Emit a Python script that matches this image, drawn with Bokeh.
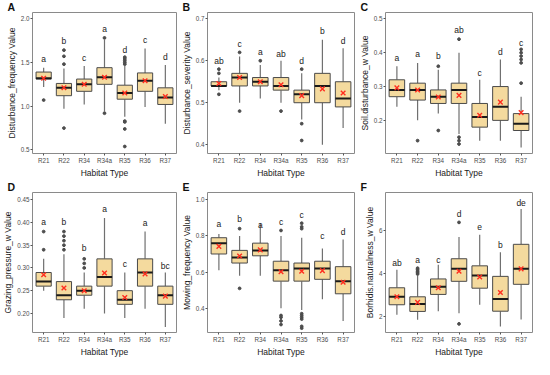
from bokeh.plotting import figure
from bokeh.models import Range1d, FixedTicker, Label, ColumnDataSource, NumeralTickFormatter
from bokeh.layouts import gridplot
from bokeh.embed import file_html
from bokeh.resources import INLINE
from bokeh.core.properties import value

habitats = ["R21", "R22", "R34", "R34a", "R35", "R36", "R37"]

# ---- Panel A: Disturbance_frequency
A_lower = [1.22, 0.97, 1.02, 0.94, 0.88, 0.99, 0.80]
A_q1 = [1.31, 1.12, 1.17, 1.25, 1.08, 1.17, 1.02]
A_median = [1.32, 1.21, 1.25, 1.33, 1.15, 1.29, 1.10]
A_q3 = [1.39, 1.26, 1.31, 1.44, 1.24, 1.38, 1.21]
A_upper = [1.44, 1.43, 1.46, 1.76, 1.46, 1.66, 1.47]
A_mean = [1.32, 1.21, 1.25, 1.33, 1.15, 1.29, 1.11]
A_outliers = [[1.07], [1.64, 1.57, 1.48, 0.75], [], [1.78, 0.92],
              [1.56, 1.54, 1.52, 1.50, 1.48, 0.83, 0.82, 0.74, 0.54], [], []]
A_letters = ["a", "b", "c", "a", "d", "c", "d"]
A_letter_y = [1.54, 1.74, 1.55, 1.88, 1.64, 1.76, 1.56]

# ---- Panel B: Disturbance_severity
B_lower = [0.53, 0.50, 0.51, 0.50, 0.46, 0.40, 0.44]
B_q1 = [0.54, 0.54, 0.54, 0.53, 0.50, 0.50, 0.49]
B_median = [0.54, 0.56, 0.55, 0.54, 0.52, 0.54, 0.51]
B_q3 = [0.55, 0.57, 0.56, 0.56, 0.53, 0.57, 0.55]
B_upper = [0.56, 0.61, 0.59, 0.60, 0.57, 0.65, 0.63]
B_mean = [0.546, 0.560, 0.550, 0.543, 0.517, 0.533, 0.523]
B_outliers = [[0.58, 0.57, 0.52], [0.62, 0.48], [0.60], [0.48], [0.58, 0.45, 0.41], [], []]
B_letters = ["ab", "c", "a", "ab", "d", "b", "d"]
B_letter_y = [0.599, 0.640, 0.620, 0.616, 0.599, 0.670, 0.648]

# ---- Panel C: Soil.disturbance_w
C_lower = [0.24, 0.20, 0.22, 0.16, 0.14, 0.14, 0.12]
C_q1 = [0.27, 0.26, 0.25, 0.25, 0.18, 0.20, 0.17]
C_median = [0.29, 0.29, 0.27, 0.29, 0.21, 0.24, 0.19]
C_q3 = [0.32, 0.31, 0.29, 0.31, 0.25, 0.30, 0.22]
C_upper = [0.36, 0.37, 0.35, 0.40, 0.32, 0.38, 0.27]
C_mean = [0.296, 0.290, 0.269, 0.274, 0.215, 0.254, 0.223]
C_outliers = [[], [0.14], [0.36, 0.17], [0.44, 0.15, 0.14, 0.13], [], [],
              [0.41, 0.40, 0.39, 0.38, 0.37, 0.31]]
C_letters = ["a", "a", "b", "ab", "c", "d", "c"]
C_letter_y = [0.384, 0.395, 0.391, 0.467, 0.341, 0.402, 0.430]

# ---- Panel D: Grazing_pressure_w
D_lower = [0.25, 0.19, 0.21, 0.20, 0.19, 0.21, 0.17]
D_q1 = [0.26, 0.23, 0.24, 0.26, 0.22, 0.26, 0.22]
D_median = [0.27, 0.24, 0.25, 0.28, 0.23, 0.29, 0.24]
D_q3 = [0.29, 0.27, 0.26, 0.32, 0.25, 0.32, 0.26]
D_upper = [0.32, 0.33, 0.29, 0.41, 0.29, 0.38, 0.29]
D_mean = [0.285, 0.256, 0.250, 0.289, 0.235, 0.287, 0.238]
D_outliers = [[0.38, 0.34], [0.38, 0.37, 0.36, 0.35, 0.34], [0.32, 0.31, 0.30], [], [], [], []]
D_letters = ["a", "b", "b", "a", "c", "a", "bc"]
D_letter_y = [0.402, 0.402, 0.344, 0.430, 0.309, 0.399, 0.305]

# ---- Panel E: Mowing_frequency
E_lower = [0.61, 0.58, 0.58, 0.40, 0.39, 0.45, 0.33]
E_q1 = [0.70, 0.65, 0.69, 0.55, 0.55, 0.56, 0.48]
E_median = [0.76, 0.68, 0.72, 0.61, 0.62, 0.62, 0.55]
E_q3 = [0.79, 0.72, 0.76, 0.66, 0.65, 0.66, 0.63]
E_upper = [0.81, 0.80, 0.87, 0.80, 0.79, 0.73, 0.78]
E_mean = [0.742, 0.689, 0.723, 0.602, 0.605, 0.608, 0.544]
E_outliers = [[], [0.84, 0.51], [], [0.83, 0.36, 0.35, 0.33, 0.31],
              [0.87, 0.85, 0.84, 0.37, 0.36, 0.35, 0.34, 0.30, 0.29], [], []]
E_letters = ["a", "b", "a", "c", "c", "c", "d"]
E_letter_y = [0.866, 0.895, 0.863, 0.879, 0.916, 0.802, 0.823]

# ---- Panel F: Borhidis.naturalness_w
F_lower = [2.07, 1.84, 2.24, 2.14, 2.54, 1.53, 1.86]
F_q1 = [2.54, 2.23, 3.02, 3.63, 3.31, 2.24, 3.49]
F_median = [2.91, 2.57, 3.38, 4.21, 3.90, 2.81, 4.21]
F_q3 = [3.33, 2.91, 3.74, 4.68, 4.35, 3.86, 5.35]
F_upper = [4.17, 3.90, 4.40, 5.69, 5.80, 4.98, 6.99]
F_mean = [2.91, 2.65, 3.33, 4.10, 3.83, 3.11, 4.21]
F_outliers = [[], [4.24, 4.17, 4.10, 4.03, 3.97], [], [6.37, 1.65], [], [], []]
F_letters = ["ab", "a", "c", "d", "e", "b", "de"]
F_letter_y = [4.47, 4.60, 4.64, 6.75, 6.14, 5.32, 7.29]

FONT = "Liberation Sans"
FILL = "#F4DA9E"
EDGE = "#4a4a4a"
WHISK = "#707070"
BOXW = 0.75


def make_panel(letter, ylabel, lower, q1, med, q3, upper, mean, outliers,
               letters, letter_y, ylim, yticks, fmt, height, top, bottom):
    xs = list(range(1, len(habitats) + 1))
    p = figure(width=178, height=height, x_range=Range1d(0.45, 7.55),
               y_range=Range1d(*ylim), output_backend="svg", toolbar_location=None,
               min_border_left=27, min_border_right=2, min_border_top=top,
               min_border_bottom=bottom)
    src = ColumnDataSource(dict(
        x=xs, lower=lower, q1=q1, med=med, q3=q3, upper=upper, mean=mean,
        lab=letters, ly=letter_y,
        xl=[v - BOXW / 2 for v in xs], xr=[v + BOXW / 2 for v in xs]))
    p.segment(x0="x", y0="lower", x1="x", y1="q1", source=src, line_color=WHISK, line_width=1.2)
    p.segment(x0="x", y0="q3", x1="x", y1="upper", source=src, line_color=WHISK, line_width=1.2)
    p.vbar(x="x", width=BOXW, bottom="q1", top="q3", source=src,
           fill_color=FILL, line_color=EDGE, line_width=1)
    p.segment(x0="xl", y0="med", x1="xr", y1="med", source=src,
              line_color="#1a1a1a", line_width=2)
    ox = [xs[i] for i, o in enumerate(outliers) for _ in o]
    oy = [v for o in outliers for v in o]
    p.scatter(ox, oy, size=2.8, color="#4d4d4d")
    p.scatter("x", "mean", source=src, marker="x", size=6.5,
              line_color="#ff2d1f", line_width=1.4)
    p.text("x", "ly", text="lab", source=src, text_align="center",
           text_baseline="middle", text_font=value(FONT),
           text_font_size="8.5px", text_color="#1a1a1a")

    p.xaxis.ticker = FixedTicker(ticks=xs)
    p.xaxis.major_label_overrides = {i + 1: h for i, h in enumerate(habitats)}
    p.yaxis.ticker = FixedTicker(ticks=yticks)
    p.yaxis.formatter = NumeralTickFormatter(format=fmt)
    p.xaxis.axis_label = "Habitat Type"
    p.yaxis.axis_label = ylabel
    for ax in (p.xaxis[0], p.yaxis[0]):
        ax.axis_line_color = None
        ax.major_tick_out = 2
        ax.major_tick_in = 0
        ax.major_tick_line_color = "#555555"
        ax.minor_tick_line_color = None
        ax.major_label_text_font = FONT
        ax.major_label_text_font_size = "6.3px"
        ax.major_label_text_color = "#4d4d4d"
        ax.major_label_standoff = 1
        ax.axis_label_text_font = FONT
        ax.axis_label_text_font_size = "8.5px"
        ax.axis_label_text_font_style = "normal"
        ax.axis_label_text_color = "#1a1a1a"
        ax.axis_label_standoff = 1
    p.grid.grid_line_color = None
    p.outline_line_color = "#8a8a8a"
    p.outline_line_width = 1
    p.add_layout(Label(x=0, y=0, x_units="screen", y_units="screen", x_offset=-25,
                       text=letter, text_baseline="bottom", text_font=FONT,
                       text_font_style="bold", text_font_size="10.5px", text_color="#111111"),
                 "above")
    return p


pA = make_panel("A", "Disturbance_frequency Value", A_lower, A_q1, A_median, A_q3, A_upper,
                A_mean, A_outliers, A_letters, A_letter_y, (0.46, 2.07),
                [0.5, 1.0, 1.5, 2.0], "0.0", 180, 3, 20)
pB = make_panel("B", "Disturbance_severity Value", B_lower, B_q1, B_median, B_q3, B_upper,
                B_mean, B_outliers, B_letters, B_letter_y, (0.379, 0.715),
                [0.4, 0.5, 0.6, 0.7], "0.0", 180, 3, 20)
pC = make_panel("C", "Soil.disturbance_w Value", C_lower, C_q1, C_median, C_q3, C_upper,
                C_mean, C_outliers, C_letters, C_letter_y, (0.102, 0.519),
                [0.2, 0.3, 0.4, 0.5], "0.0", 180, 3, 20)
pD = make_panel("D", "Grazing_pressure_w Value", D_lower, D_q1, D_median, D_q3, D_upper,
                D_mean, D_outliers, D_letters, D_letter_y, (0.158, 0.466),
                [0.20, 0.25, 0.30, 0.35, 0.40, 0.45], "0.00", 179, 12, 21)
pE = make_panel("E", "Mowing_frequency Value", E_lower, E_q1, E_median, E_q3, E_upper,
                E_mean, E_outliers, E_letters, E_letter_y, (0.266, 1.04),
                [0.4, 0.6, 0.8, 1.0], "0.0", 179, 12, 21)
pF = make_panel("F", "Borhidis.naturalness_w Value", F_lower, F_q1, F_median, F_q3, F_upper,
                F_mean, F_outliers, F_letters, F_letter_y, (1.25, 7.76),
                [2, 4, 6], "0", 179, 12, 21)

grid = gridplot([[pA, pB, pC], [pD, pE, pF]], toolbar_location=None)

open("out.html", "w").write(file_html(grid, INLINE))
